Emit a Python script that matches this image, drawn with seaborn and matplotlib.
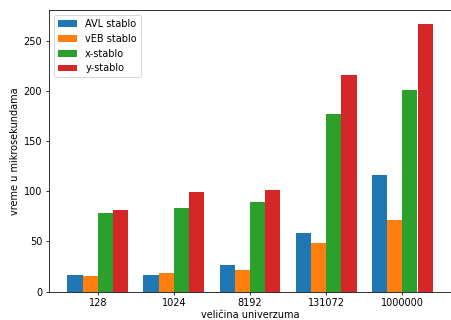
import matplotlib
matplotlib.use("Agg")
import matplotlib.pyplot as plt
import seaborn as sns
import pandas as pd

# Measured lookup times per universe size
universe_sizes = ["128", "1024", "8192", "131072", "1000000"]
avl_times = [16.4, 16.0, 26.3, 58.3, 116.5]
veb_times = [15.7, 18.3, 21.3, 48.3, 71.6]
x_times = [78.6, 83.6, 89.5, 177.4, 201.4]
y_times = [81.3, 99.5, 101.2, 216.3, 267.3]
structures = ["AVL stablo", "vEB stablo", "x-stablo", "y-stablo"]

rows = []
for name, values in zip(structures, [avl_times, veb_times, x_times, y_times]):
    for size, v in zip(universe_sizes, values):
        rows.append({"size": size, "time": v, "structure": name})
df = pd.DataFrame(rows)

DPI = 451 / 6.4
fig = plt.figure(figsize=(6.4, 320 / DPI), dpi=DPI)
ax = fig.add_axes([49 / 451, (320 - 291.5) / 320, 402 / 451, (291.5 - 10) / 320])

palette = ["#1f77b4", "#ff7f0e", "#2ca02c", "#d62728"]
sns.barplot(data=df, x="size", y="time", hue="structure", order=universe_sizes,
            hue_order=structures, palette=palette, saturation=1, width=0.8,
            errorbar=None, ax=ax)

ax.set_xlim(-0.64, 4.64)
ax.set_ylim(0, 281.2)
ax.set_xlabel("veličina univerzuma", labelpad=2)
ax.set_ylabel("vreme u mikrosekundama")
ax.legend(loc="upper left", title=None)

fig.savefig("out.png", dpi=DPI)
